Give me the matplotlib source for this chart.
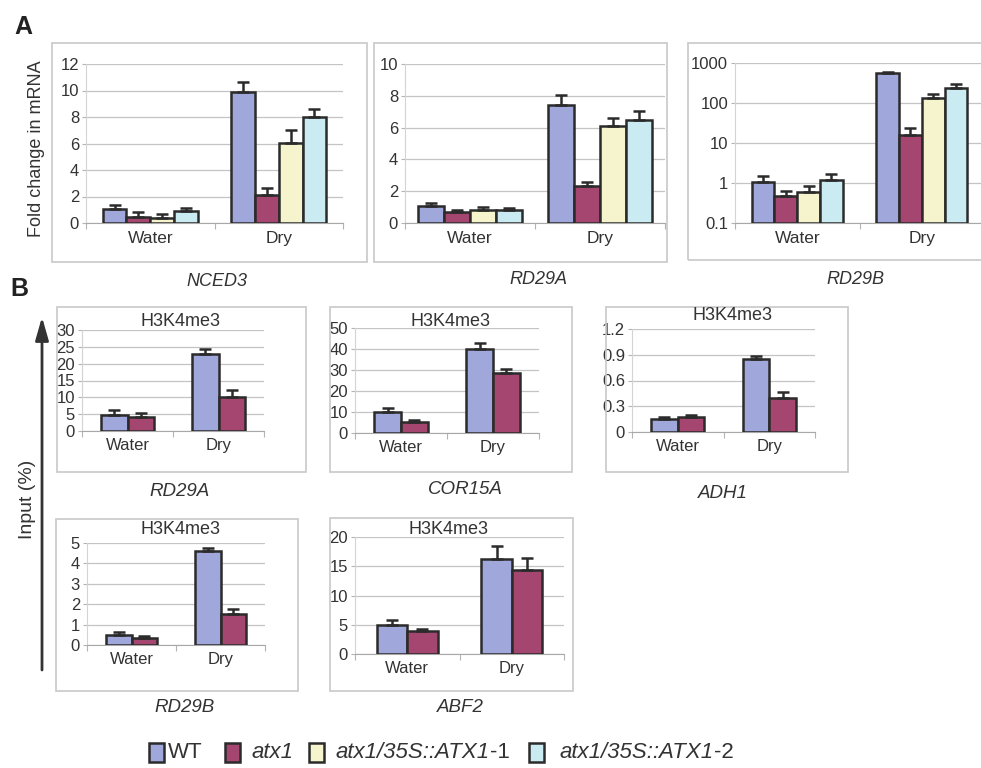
import matplotlib
matplotlib.use("Agg")
import matplotlib.pyplot as plt
import numpy as np
from matplotlib.patches import Rectangle, FancyArrowPatch
from matplotlib.ticker import FixedLocator, FuncFormatter, NullLocator

plt.rcParams['font.family'] = ['Liberation Sans', 'DejaVu Sans']

# ---- data ----
categories = ['Water', 'Dry']
genotypes = ['WT', 'atx1', 'atx1/35S::ATX1-1', 'atx1/35S::ATX1-2']

# panel A: fold change in mRNA (4 genotypes)
nced3_water = [1.06, 0.45, 0.35, 0.90]
nced3_water_err = [0.30, 0.35, 0.35, 0.20]
nced3_dry = [9.87, 2.10, 6.06, 8.03]
nced3_dry_err = [0.75, 0.55, 0.95, 0.57]

rd29a_water = [1.05, 0.69, 0.80, 0.80]
rd29a_water_err = [0.20, 0.15, 0.20, 0.14]
rd29a_dry = [7.43, 2.30, 6.07, 6.49]
rd29a_dry_err = [0.62, 0.30, 0.55, 0.58]

rd29b_water = [1.06, 0.46, 0.59, 1.21]
rd29b_water_err = [0.41, 0.17, 0.27, 0.50]
rd29b_dry = [556, 15.4, 131, 243]
rd29b_dry_err = [25, 8.2, 40, 62]

# panel B: H3K4me3, input (%) (WT, atx1)
h_rd29a_water = [4.7, 4.1]
h_rd29a_water_err = [1.5, 1.1]
h_rd29a_dry = [23.0, 10.1]
h_rd29a_dry_err = [1.5, 2.0]

h_cor15a_water = [10.0, 5.2]
h_cor15a_water_err = [2.1, 0.8]
h_cor15a_dry = [40.0, 28.6]
h_cor15a_dry_err = [2.9, 2.0]

h_adh1_water = [0.152, 0.18]
h_adh1_water_err = [0.025, 0.02]
h_adh1_dry = [0.845, 0.40]
h_adh1_dry_err = [0.045, 0.07]

h_rd29b_water = [0.49, 0.33]
h_rd29b_water_err = [0.15, 0.11]
h_rd29b_dry = [4.59, 1.52]
h_rd29b_dry_err = [0.16, 0.25]

h_abf2_water = [5.0, 3.85]
h_abf2_water_err = [0.75, 0.5]
h_abf2_dry = [16.2, 14.3]
h_abf2_dry_err = [2.3, 2.1]

# ---- style ----
colors = ['#A0A7DA', '#A4466F', '#F6F4CC', '#CBEBF2']
EDGE = '#2B2B2B'
TXT = '#333333'
GRID = '#C4C4C4'
FRAME = '#C8C8C8'

W, H = 981, 768
fig = plt.figure(figsize=(W / 100, H / 100), dpi=100)


def px_rect(l, t, r, b):
    return [l / W, 1 - b / H, (r - l) / W, (b - t) / H]


def frame(l, t, r, b):
    fig.add_artist(Rectangle((l / W, 1 - b / H), (r - l) / W, (b - t) / H,
                             transform=fig.transFigure, fill=False,
                             edgecolor=FRAME, lw=1.2))


def ftext(x, y, s, **kw):
    kw.setdefault('color', TXT)
    return fig.text(x / W, 1 - y / H, s, ha='center', va='center', **kw)


def panel(rect, water, water_err, dry, dry_err, width, ticks,
          tick_fs, cat_fs, pad, log=False):
    ax = fig.add_axes(px_rect(*rect))
    if log:
        ax.set_yscale('log')
    x = np.arange(len(categories))
    n = len(water)
    for i in range(n):
        xi = x + (i - (n - 1) / 2) * width
        v = np.array([water[i], dry[i]])
        e = np.array([water_err[i], dry_err[i]])
        if log:
            ax.bar(xi, v - ticks[0], width, bottom=ticks[0], color=colors[i],
                   edgecolor=EDGE, lw=1.8, zorder=3)
        else:
            ax.bar(xi, v, width, color=colors[i], edgecolor=EDGE, lw=1.8, zorder=3)
        ax.errorbar(xi, v, yerr=[np.zeros(len(v)), e], fmt='none', ecolor=EDGE,
                    elinewidth=1.8, capsize=4.5, capthick=1.8, zorder=4)
    ax.set_xlim(-0.5, 1.5)
    ax.set_ylim(ticks[0], ticks[-1])
    ax.yaxis.set_major_locator(FixedLocator(ticks))
    ax.yaxis.set_minor_locator(NullLocator())
    ax.yaxis.set_major_formatter(FuncFormatter(lambda v, p: '%g' % v))
    ax.set_axisbelow(True)
    ax.yaxis.grid(True, color=GRID, lw=0.9)
    ax.set_xticks(x)
    ax.set_xticklabels(categories)
    ax.set_xticks([-0.5, 0.5, 1.5], minor=True)
    ax.tick_params(axis='x', which='major', length=0, pad=pad,
                   labelsize=cat_fs, labelcolor=TXT)
    ax.tick_params(axis='x', which='minor', length=4, color='#B4B4B4', width=0.8)
    ax.tick_params(axis='y', length=3, color='#B4B4B4', width=0.8, pad=2,
                   labelsize=tick_fs, labelcolor=TXT)
    for s in ('top', 'right'):
        ax.spines[s].set_visible(False)
    ax.spines['left'].set_color('#D4D4D4')
    ax.spines['bottom'].set_color('#A8A8A8')
    ax.patch.set_alpha(0)
    return ax


# ---- panel A ----
frame(52, 43, 367, 262)
frame(374, 43, 667, 262)
frame(688, 43, 995, 260)

panel((86, 64, 343, 223), nced3_water, nced3_water_err, nced3_dry, nced3_dry_err,
      0.185, [0, 2, 4, 6, 8, 10, 12], 12, 12.5, 6)
panel((405, 64, 665, 223), rd29a_water, rd29a_water_err, rd29a_dry, rd29a_dry_err,
      0.2, [0, 2, 4, 6, 8, 10], 12, 12.5, 6)
panel((735, 63, 984, 223), rd29b_water, rd29b_water_err, rd29b_dry, rd29b_dry_err,
      0.183, [0.1, 1, 10, 100, 1000], 12, 12.5, 6, log=True)

ftext(37, 149, 'Fold change in mRNA', rotation=90, fontsize=13)
ftext(217, 281, 'NCED3', fontsize=13, style='italic')
ftext(538, 280, 'RD29A', fontsize=13, style='italic')
ftext(855, 280, 'RD29B', fontsize=13, style='italic')
ftext(23, 27, 'A', fontsize=18, fontweight='bold', color='#222222')

# ---- panel B ----
frame(57, 307, 306, 472)
frame(330, 307, 572, 472)
frame(606, 307, 848, 472)
frame(56, 519, 298, 691)
frame(330, 518, 573, 691)

panel((82, 330, 264, 431), h_rd29a_water, h_rd29a_water_err, h_rd29a_dry,
      h_rd29a_dry_err, 0.29, [0, 5, 10, 15, 20, 25, 30], 12, 12, 5)
panel((355, 328, 539, 433), h_cor15a_water, h_cor15a_water_err, h_cor15a_dry,
      h_cor15a_dry_err, 0.29, [0, 10, 20, 30, 40, 50], 12, 12, 5)
panel((632, 329, 815, 432), h_adh1_water, h_adh1_water_err, h_adh1_dry,
      h_adh1_dry_err, 0.29, [0, 0.3, 0.6, 0.9, 1.2], 12, 12, 5)
panel((87, 543, 265, 645), h_rd29b_water, h_rd29b_water_err, h_rd29b_dry,
      h_rd29b_dry_err, 0.29, [0, 1, 2, 3, 4, 5], 12, 12, 5)
panel((355, 537, 564, 654), h_abf2_water, h_abf2_water_err, h_abf2_dry,
      h_abf2_dry_err, 0.29, [0, 5, 10, 15, 20], 12, 12, 5)

for (tx, ty) in [(180, 322), (450, 322), (732, 315), (180, 530), (448, 529)]:
    ftext(tx, ty, 'H3K4me3', fontsize=13)

ftext(180, 492, 'RD29A', fontsize=13.5, style='italic')
ftext(465, 490, 'COR15A', fontsize=13.5, style='italic')
ftext(723, 493, 'ADH1', fontsize=13.5, style='italic')
ftext(185, 707, 'RD29B', fontsize=13.5, style='italic')
ftext(460, 708, 'ABF2', fontsize=13.5, style='italic')
ftext(19, 289, 'B', fontsize=18, fontweight='bold', color='#222222')

fig.add_artist(FancyArrowPatch((42 / W, 1 - 670 / H), (42 / W, 1 - 317 / H),
                               transform=fig.transFigure,
                               arrowstyle='-|>,head_length=0.7,head_width=0.2',
                               mutation_scale=20, lw=2, color='#333333',
                               shrinkA=0, shrinkB=0))
ftext(27, 499, 'Input (%)', rotation=90, fontsize=14)

# ---- legend ----
legend_parts = [[('WT', 'normal')],
                [('atx1', 'italic')],
                [('atx1/35S::ATX1', 'italic'), ('-1', 'normal')],
                [('atx1/35S::ATX1', 'italic'), ('-2', 'normal')]]
square_x = [149, 225, 309, 529]
text_x = [168, 252, 336, 560]
renderer = fig.canvas.get_renderer()
for i, parts in enumerate(legend_parts):
    fig.add_artist(Rectangle((square_x[i] / W, 1 - 762 / H), 15 / W, 19 / H,
                             transform=fig.transFigure, facecolor=colors[i],
                             edgecolor=EDGE, lw=1.8))
    xpos = text_x[i]
    for s, st in parts:
        t = fig.text(xpos / W, 1 - 753 / H, s, ha='left', va='center',
                     color=TXT, fontsize=16, style=st)
        bb = t.get_window_extent(renderer)
        xpos = bb.x1

fig.savefig('out.png', dpi=100)
